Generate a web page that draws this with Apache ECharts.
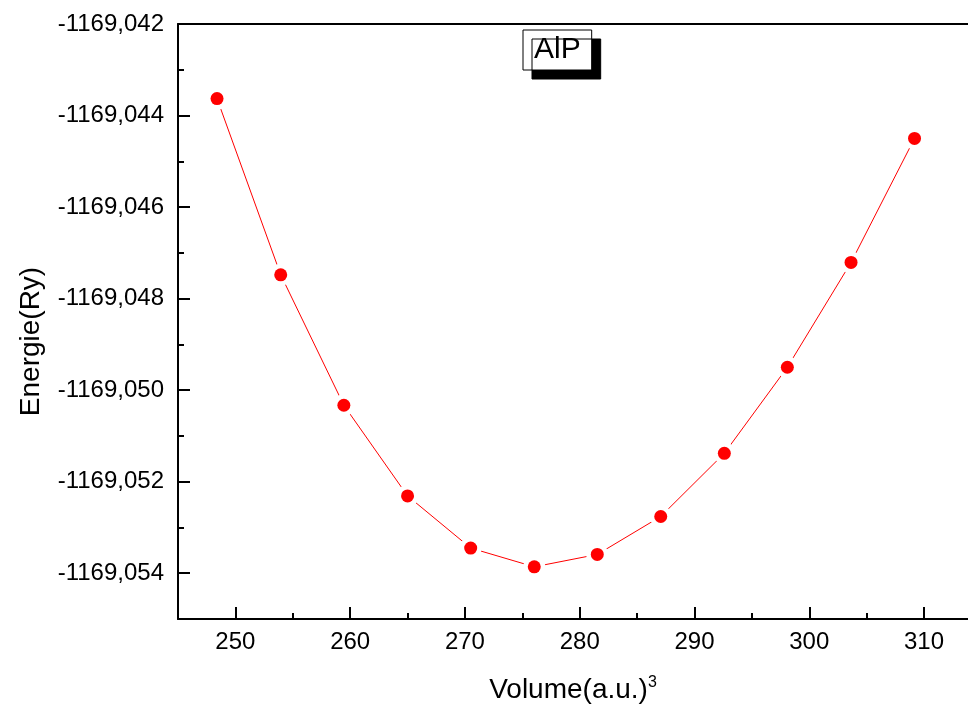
<!DOCTYPE html>
<html>
<head>
<meta charset="utf-8">
<script src="https://cdn.jsdelivr.net/npm/echarts@6/dist/echarts.min.js"></script>
<style>html,body{margin:0;padding:0;background:#fff}#c{width:968px;height:711px}</style>
</head>
<body>
<div id="c"></div>
<script>
const volumes = [248.40, 253.95, 259.45, 265.00, 270.50, 276.04, 281.53, 287.06, 292.60, 298.09, 303.64, 309.17];
const energies = [-1169.04363, -1169.04748, -1169.05033, -1169.05231, -1169.05345, -1169.05386, -1169.05359, -1169.05276, -1169.05138, -1169.04950, -1169.04721, -1169.04450];
const xMajorTicks = [250, 260, 270, 280, 290, 300, 310];
const xMinorTicks = [255, 265, 275, 285, 295, 305];
const yMajorTicks = [-1169.054, -1169.052, -1169.050, -1169.048, -1169.046, -1169.044, -1169.042];
const yMinorTicks = [-1169.053, -1169.051, -1169.049, -1169.047, -1169.045, -1169.043];
const seriesName = 'AlP';

const points = volumes.map((v, i) => [v, energies[i]]);
const FONT = 'Liberation Sans, Arial, sans-serif';
const X_MIN = 245, X_MAX = 313.83, Y_MIN = -1169.055, Y_MAX = -1169.042;

const chart = echarts.init(document.getElementById('c'), null, {renderer: 'canvas'});
chart.setOption({
  animation: false,
  backgroundColor: '#fff',
  grid: {left: 178, top: 24, right: 0, bottom: 92, show: false},
  legend: {
    data: [{name: seriesName, icon: 'none'}],
    left: 523, top: 30,
    itemWidth: 0, itemHeight: 10,
    padding: [4, 11, 4, 6],
    backgroundColor: '#fff', borderColor: '#000', borderWidth: 1,
    shadowColor: '#000', shadowOffsetX: 9, shadowOffsetY: 9, shadowBlur: 0,
    textStyle: {fontFamily: FONT, fontSize: 30, color: '#000', lineHeight: 32},
    selectedMode: false
  },
  xAxis: [{
    type: 'value', min: X_MIN, max: X_MAX,
    name: 'Volume(a.u.){sup|3}', nameLocation: 'middle', nameGap: 56,
    nameTextStyle: {fontFamily: FONT, fontSize: 28, color: '#000', rich: {sup: {fontFamily: FONT, fontSize: 16, color: '#000', verticalAlign: 'top', padding: [0,0,14,0]}}},
    axisLine: {show: true, lineStyle: {color: '#000', width: 2}},
    axisTick: {show: true, inside: true, length: 12, lineStyle: {color: '#000', width: 2}, customValues: xMajorTicks},
    axisLabel: {customValues: xMajorTicks, margin: 11, fontFamily: FONT, fontSize: 24, color: '#000'},
    splitLine: {show: false}
  }, {
    type: 'value', min: X_MIN, max: X_MAX, position: 'bottom', offset: 0,
    axisLine: {show: false},
    axisTick: {show: true, inside: true, length: 6, lineStyle: {color: '#000', width: 2}, customValues: xMinorTicks},
    axisLabel: {show: false},
    splitLine: {show: false}
  }, {
    type: 'value', min: X_MIN, max: X_MAX, position: 'top', offset: 0,
    axisLine: {show: true, lineStyle: {color: '#000', width: 2}},
    axisTick: {show: false},
    axisLabel: {show: false},
    splitLine: {show: false}
  }],
  yAxis: [{
    type: 'value', min: Y_MIN, max: Y_MAX,
    name: 'Energie(Ry)', nameLocation: 'middle', nameGap: 133, nameRotate: 90,
    nameTextStyle: {fontFamily: FONT, fontSize: 28, color: '#000', padding: [0, 40, 0, 0]},
    axisLine: {show: true, lineStyle: {color: '#000', width: 2}},
    axisTick: {show: true, inside: true, length: 12, lineStyle: {color: '#000', width: 2}, customValues: yMajorTicks},
    axisLabel: {customValues: yMajorTicks, margin: 14, fontFamily: FONT, fontSize: 24, color: '#000',
      formatter: v => v.toFixed(3).replace('.', ',')},
    splitLine: {show: false}
  }, {
    type: 'value', min: Y_MIN, max: Y_MAX, position: 'left', offset: 0,
    axisLine: {show: false},
    axisTick: {show: true, inside: true, length: 6, lineStyle: {color: '#000', width: 2}, customValues: yMinorTicks},
    axisLabel: {show: false},
    splitLine: {show: false}
  }],
  series: [{
    name: 'curve', type: 'line', data: points, z: 2,
    symbol: 'circle', symbolSize: 22, showSymbol: true,
    itemStyle: {color: '#fff'},
    lineStyle: {color: '#ff0000', width: 1},
    silent: true
  }, {
    name: seriesName, type: 'scatter', data: points, z: 5,
    symbol: 'circle', symbolSize: 13,
    itemStyle: {color: '#ff0000', opacity: 1},
    silent: true
  }]
});
</script>
</body>
</html>
